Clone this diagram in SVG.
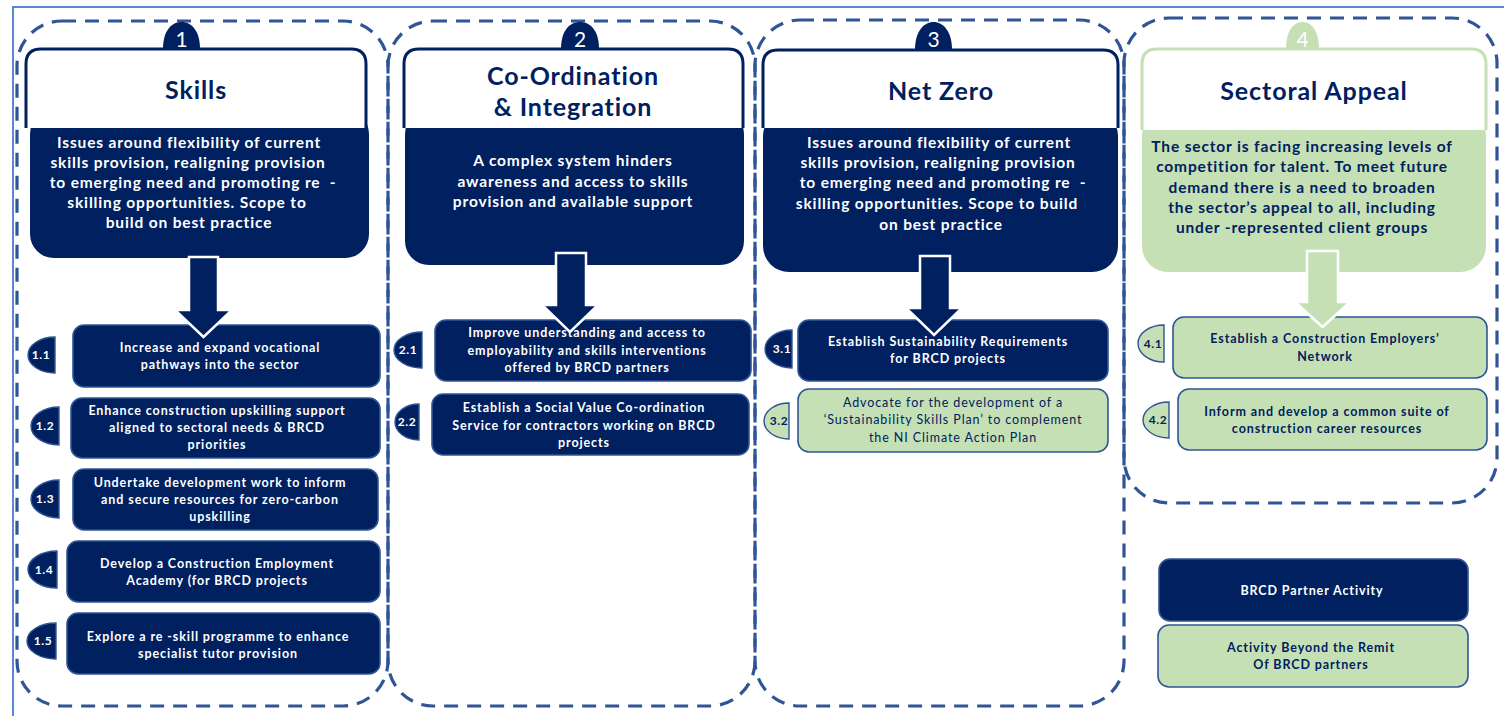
<svg xmlns="http://www.w3.org/2000/svg" width="1504" height="716" viewBox="0 0 1504 716">
  <style>
    .frame { fill: none; stroke: #5a86d2; stroke-width: 2; }
    .lane { fill: none; stroke: #2f5597; stroke-width: 3.2; stroke-dasharray: 14 9; }
    .dome { fill: #002060; }
    .dome.g { fill: #c5e0b4; }
    .num { font-family: "Lato", "Liberation Sans", sans-serif; font-size: 21px; fill: #ffffff; text-anchor: middle; }
    .cap { fill: #ffffff; stroke: #002060; stroke-width: 3; }
    .cap.g { stroke: #c5e0b4; }
    .body { fill: #002060; }
    .body.g { fill: #c5e0b4; }
    .title { font-family: "Lato", "Liberation Sans", sans-serif; font-weight: bold; font-size: 25px; letter-spacing: 0.9px; fill: #002060; text-anchor: middle; }
    .desc { font-family: "Lato", "Liberation Sans", sans-serif; font-weight: bold; font-size: 15.5px; letter-spacing: 0.85px; fill: #ffffff; text-anchor: middle; }
    .desc.g { fill: #002060; }
    .item { fill: #002060; stroke: #2f5597; stroke-width: 1.6; }
    .item.g { fill: #c5e0b4; }
    .it { font-family: "Lato", "Liberation Sans", sans-serif; font-weight: bold; font-size: 12.5px; letter-spacing: 0.9px; fill: #ffffff; text-anchor: middle; }
    .it.g { fill: #002060; }
    .it.r { font-weight: normal; }
    .tag { fill: #002060; stroke: #2f5597; stroke-width: 1.4; }
    .tag.g { fill: #c5e0b4; }
    .tl { font-family: "Lato", "Liberation Sans", sans-serif; font-weight: bold; font-size: 12px; letter-spacing: 0.6px; fill: #ffffff; text-anchor: middle; }
    .tl.g { fill: #002060; }
    .arrow { fill: #002060; stroke: #ffffff; stroke-width: 2.5; stroke-linejoin: miter; }
    .arrow.g { fill: #c5e0b4; }
  </style>

  <rect class="frame" x="13" y="7" width="1500" height="720"/>

  <!-- dashed lanes -->
  <g id="lanes">
    <rect class="lane" x="17" y="21" width="371" height="685" rx="45"/>
    <rect class="lane" x="388" y="21" width="367" height="685" rx="45"/>
    <rect class="lane" x="755" y="20" width="369" height="686" rx="45"/>
    <rect class="lane" x="1124" y="18" width="373" height="485" rx="45"/>
  </g>

  <!-- theme 1 -->
  <g id="theme-1">
    <path class="dome" d="M163,49 C163,30 172,22 181.5,22 C191,22 200,30 200,49 Z"/>
    <text class="num" x="181.5" y="47">1</text>
    <rect class="body" x="30" y="110" width="339" height="148" rx="24"/>
    <path class="cap" d="M26,128 V64 Q26,49 41,49 H351 Q366,49 366,64 V128"/>
    <text class="title" x="196" y="99">Skills</text>
    <text class="desc" x="189" y="148">Issues around flexibility of current</text>
    <text class="desc" x="188" y="168">skills provision, realigning provision</text>
    <text class="desc" x="193" y="188" xml:space="preserve">to emerging need and promoting re  -</text>
    <text class="desc" x="187" y="208">skilling opportunities. Scope to</text>
    <text class="desc" x="189" y="228">build on best practice</text>
  </g>

  <!-- theme 2 -->
  <g id="theme-2">
    <path class="dome" d="M561,49 C561,30 570,22 580,22 C590,22 599,30 599,49 Z"/>
    <text class="num" x="580" y="47">2</text>
    <rect class="body" x="405" y="110" width="339" height="155" rx="24"/>
    <path class="cap" d="M404,128 V64 Q404,49 419,49 H728 Q743,49 743,64 V128"/>
    <text class="title" x="573" y="85">Co-Ordination</text>
    <text class="title" x="573" y="116">&amp; Integration</text>
    <text class="desc" x="573" y="166">A complex system hinders</text>
    <text class="desc" x="573" y="187">awareness and access to skills</text>
    <text class="desc" x="573" y="207">provision and available support</text>
  </g>

  <!-- theme 3 -->
  <g id="theme-3">
    <path class="dome" d="M915,50 C915,31 924,22 933.5,22 C943,22 952,31 952,50 Z"/>
    <text class="num" x="933.5" y="47">3</text>
    <rect class="body" x="763" y="110" width="355" height="162" rx="26"/>
    <path class="cap" d="M763,128 V65 Q763,50 778,50 H1103 Q1118,50 1118,65 V128"/>
    <text class="title" x="941" y="100">Net Zero</text>
    <text class="desc" x="939" y="148">Issues around flexibility of current</text>
    <text class="desc" x="938" y="168">skills provision, realigning provision</text>
    <text class="desc" x="943" y="188" xml:space="preserve">to emerging need and promoting re  -</text>
    <text class="desc" x="937" y="209">skilling opportunities. Scope to build</text>
    <text class="desc" x="941" y="230">on best practice</text>
  </g>

  <!-- theme 4 -->
  <g id="theme-4">
    <path class="dome g" d="M1286,49 C1286,30 1294,22 1302.5,22 C1311,22 1319,30 1319,49 Z"/>
    <text class="num" x="1302.5" y="47">4</text>
    <rect class="body g" x="1142" y="110" width="344" height="162" rx="26"/>
    <path class="cap g" d="M1142,130 V64 Q1142,49 1157,49 H1471 Q1486,49 1486,64 V130"/>
    <text class="title" x="1314" y="100">Sectoral Appeal</text>
    <text class="desc g" x="1302" y="152">The sector is facing increasing levels of</text>
    <text class="desc g" x="1302" y="172">competition for talent. To meet future</text>
    <text class="desc g" x="1302" y="193">demand there is a need to broaden</text>
    <text class="desc g" x="1302" y="213">the sector’s appeal to all, including</text>
    <text class="desc g" x="1302" y="233">under -represented client groups</text>
  </g>

  <!-- actions, theme 1 -->
  <g id="item-1-1">
    <rect class="item" x="73" y="325" width="307" height="62" rx="11"/>
    <text class="it" x="220" y="352">Increase and expand vocational</text>
    <text class="it" x="220" y="369">pathways into the sector</text>
    <path class="tag" d="M55,337 A27,18 0 0 0 55,373 Z"/>
    <text class="tl" x="41" y="359">1.1</text>
  </g>
  <g id="item-1-2">
    <rect class="item" x="71" y="398" width="309" height="60" rx="11"/>
    <text class="it" x="217" y="415">Enhance construction upskilling support</text>
    <text class="it" x="217" y="432">aligned to sectoral needs &amp; BRCD</text>
    <text class="it" x="217" y="449">priorities</text>
    <path class="tag" d="M59,407 A28,19 0 0 0 59,445 Z"/>
    <text class="tl" x="45" y="430">1.2</text>
  </g>
  <g id="item-1-3">
    <rect class="item" x="73" y="469" width="305" height="61" rx="11"/>
    <text class="it" x="220" y="487">Undertake development work to inform</text>
    <text class="it" x="220" y="504">and secure resources for zero-carbon</text>
    <text class="it" x="220" y="521">upskilling</text>
    <path class="tag" d="M59,480 A28,19 0 0 0 59,518 Z"/>
    <text class="tl" x="45" y="503">1.3</text>
  </g>
  <g id="item-1-4">
    <rect class="item" x="67" y="541" width="313" height="61" rx="11"/>
    <text class="it" x="217" y="568">Develop a Construction Employment</text>
    <text class="it" x="217" y="585">Academy (for BRCD projects</text>
    <path class="tag" d="M57,551 A29,18.5 0 0 0 57,588 Z"/>
    <text class="tl" x="44" y="574">1.4</text>
  </g>
  <g id="item-1-5">
    <rect class="item" x="67" y="613" width="313" height="61" rx="11"/>
    <text class="it" x="218" y="641">Explore a re -skill programme to enhance</text>
    <text class="it" x="218" y="658">specialist tutor provision</text>
    <path class="tag" d="M56,623 A29,18 0 0 0 56,659 Z"/>
    <text class="tl" x="43" y="645">1.5</text>
  </g>

  <!-- actions, theme 2 -->
  <g id="item-2-1">
    <rect class="item" x="435" y="320" width="316" height="61" rx="11"/>
    <text class="it" x="587" y="337">Improve understanding and access to</text>
    <text class="it" x="587" y="355">employability and skills interventions</text>
    <text class="it" x="587" y="372">offered by BRCD partners</text>
    <path class="tag" d="M422,332 A28,18 0 0 0 422,368 Z"/>
    <text class="tl" x="408" y="354">2.1</text>
  </g>
  <g id="item-2-2">
    <rect class="item" x="432" y="394" width="317" height="61" rx="11"/>
    <text class="it" x="584" y="412">Establish a Social Value Co-ordination</text>
    <text class="it" x="584" y="430">Service for contractors working on BRCD</text>
    <text class="it" x="584" y="447">projects</text>
    <path class="tag" d="M419,404 A24,18 0 0 0 419,440 Z"/>
    <text class="tl" x="407" y="426">2.2</text>
  </g>

  <!-- actions, theme 3 -->
  <g id="item-3-1">
    <rect class="item" x="798" y="320" width="310" height="61" rx="11"/>
    <text class="it" x="948" y="346">Establish Sustainability Requirements</text>
    <text class="it" x="948" y="363">for BRCD projects</text>
    <path class="tag" d="M792,330 A27,19 0 0 0 792,368 Z"/>
    <text class="tl" x="782" y="353">3.1</text>
  </g>
  <g id="item-3-2">
    <rect class="item g" x="798" y="389" width="310" height="63" rx="11"/>
    <text class="it g r" x="953" y="407">Advocate for the development of a</text>
    <text class="it g r" x="953" y="424">‘Sustainability Skills Plan’ to complement</text>
    <text class="it g r" x="953" y="442">the NI Climate Action Plan</text>
    <path class="tag g" d="M789,403 A25,18 0 0 0 789,439 Z"/>
    <text class="tl g" x="779" y="425">3.2</text>
  </g>

  <!-- actions, theme 4 -->
  <g id="item-4-1">
    <rect class="item g" x="1173" y="317" width="314" height="61" rx="11"/>
    <text class="it g" x="1325" y="343">Establish a Construction Employers’</text>
    <text class="it g" x="1325" y="361">Network</text>
    <path class="tag g" d="M1164,325 A26,18.5 0 0 0 1164,362 Z"/>
    <text class="tl g" x="1153" y="348">4.1</text>
  </g>
  <g id="item-4-2">
    <rect class="item g" x="1178" y="389" width="309" height="61" rx="11"/>
    <text class="it g" x="1327" y="416">Inform and develop a common suite of</text>
    <text class="it g" x="1327" y="433">construction career resources</text>
    <path class="tag g" d="M1169,402 A26,18 0 0 0 1169,438 Z"/>
    <text class="tl g" x="1158" y="424">4.2</text>
  </g>

  <!-- block arrows from each theme into its actions -->
  <g id="connectors">
    <polygon class="arrow" points="189,257 218,257 218,310 232,310 203.5,337 175,310 189,310"/>
    <polygon class="arrow" points="556,253 586,253 586,305 598,305 570,332 542,305 556,305"/>
    <polygon class="arrow" points="920,256 950,256 950,308 962,308 934,335 906,308 920,308"/>
    <polygon class="arrow g" points="1307,251 1338,251 1338,302 1350,302 1322.5,327 1295,302 1307,302"/>
  </g>

  <!-- key -->
  <g id="key-partner">
    <rect class="item" x="1159" y="559" width="309" height="62" rx="11"/>
    <text class="it" x="1312" y="595">BRCD Partner Activity</text>
  </g>
  <g id="key-beyond">
    <rect class="item g" x="1158" y="625" width="310" height="62" rx="11"/>
    <text class="it g" x="1311" y="652">Activity Beyond the Remit</text>
    <text class="it g" x="1311" y="669">Of BRCD partners</text>
  </g>
</svg>
